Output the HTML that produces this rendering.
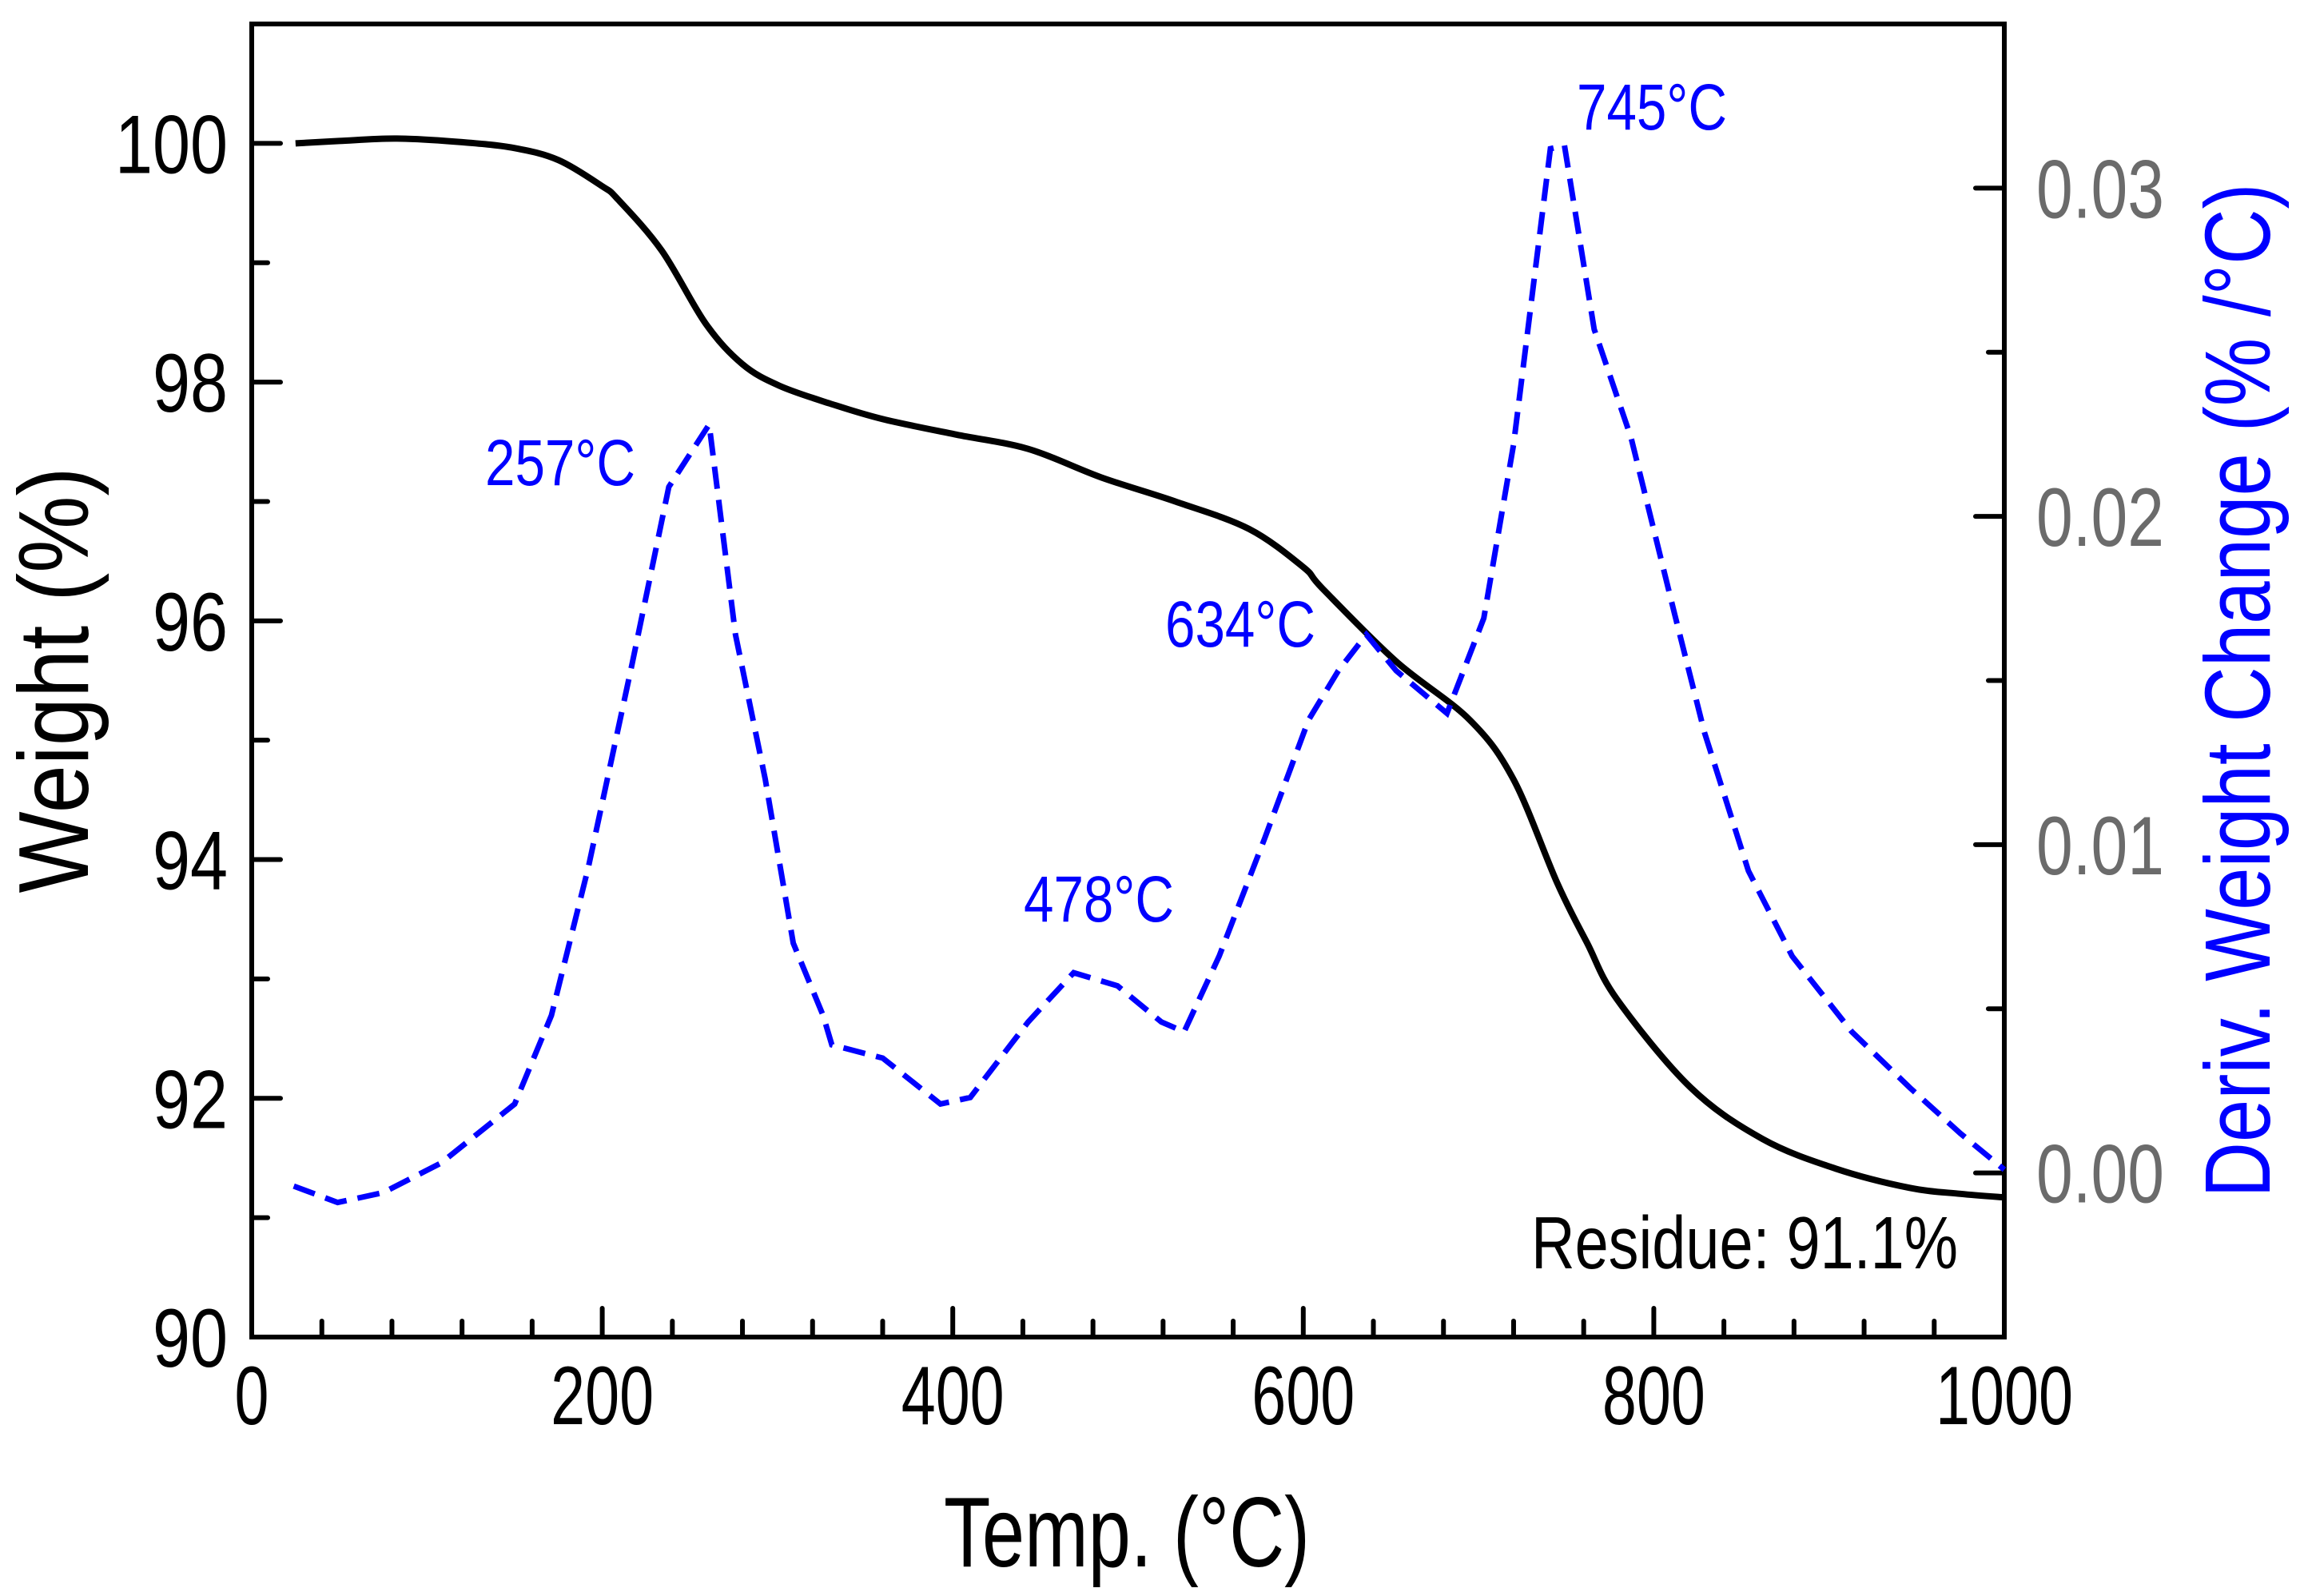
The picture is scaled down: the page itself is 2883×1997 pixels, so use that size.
<!DOCTYPE html>
<html><head><meta charset="utf-8"><style>html,body{margin:0;padding:0;background:#fff}svg{display:block}text{font-family:"Liberation Sans Narrow","Liberation Sans",sans-serif}</style></head>
<body>
<svg id="chart" width="2883" height="1997" viewBox="0 0 2883 1997" xmlns="http://www.w3.org/2000/svg">
<g id="axes"></g>
<g id="series"></g>
<g id="labels"></g>
</svg>
<script>
const tgaTemp = [25,50,83,120,150,175,200,209,234,259,280,301,330,360,402,443,485,527,569,600,611,653,695,720,745,762,779,821,862,904,946,975,1000];
const tgaWeight = [100,100.02,100.04,100.01,99.96,99.86,99.64,99.53,99.1,98.49,98.15,97.97,97.82,97.69,97.56,97.44,97.2,97.0,96.77,96.45,96.27,95.66,95.17,94.67,93.8,93.3,92.83,92.09,91.66,91.41,91.25,91.2,91.17];
const dtgTemp = [24,49,75,108,150,171,192,217,238,261,276,293,309,326,331,360,393,410,443,469,494,519,532,552,578,603,620,636,653,682,703,720,741,749,766,787,812,829,854,879,913,946,975,1000];
const dtgValue = [-0.0004,-0.0009,-0.0006,0.0003,0.0021,0.0048,0.0093,0.0155,0.0209,0.0228,0.0164,0.0120,0.0070,0.0048,0.0039,0.0035,0.0021,0.0023,0.0046,0.0061,0.0057,0.0046,0.0043,0.0066,0.0102,0.0138,0.0153,0.0164,0.0153,0.0140,0.0169,0.0222,0.0312,0.0313,0.0257,0.0224,0.0170,0.0134,0.0092,0.0066,0.0043,0.0026,0.0012,0.0001];
const xTicks = [0,200,400,600,800,1000];
const yTicks = [90,92,94,96,98,100];
const y2Ticks = [0.00,0.01,0.02,0.03];
const y2TickLabels = ["0.00","0.01","0.02","0.03"];
const peakTemps = [257,478,634,745];

const L=315,R=2508,T=30,B=1673;
const X=t=>L+(t-0)/(1000-0)*(R-L);
const Y=w=>B-(w-90)/(101-90)*(B-T);
const Y2=d=>B-(d-(-0.005))/(0.035-(-0.005))*(B-T);
const NS="http://www.w3.org/2000/svg";
function mk(tag,attrs,parent,text){const e=document.createElementNS(NS,tag);for(const k in attrs)e.setAttribute(k,attrs[k]);if(text!==undefined)e.textContent=text;parent.appendChild(e);return e;}
function smooth(pts){let d='M'+pts[0][0].toFixed(1)+','+pts[0][1].toFixed(1);for(let i=0;i<pts.length-1;i++){const p0=pts[Math.max(0,i-1)],p1=pts[i],p2=pts[i+1],p3=pts[Math.min(pts.length-1,i+2)];const c1=[p1[0]+(p2[0]-p0[0])/6,p1[1]+(p2[1]-p0[1])/6],c2=[p2[0]-(p3[0]-p1[0])/6,p2[1]-(p3[1]-p1[1])/6];d+=' C'+c1.map(v=>v.toFixed(1))+' '+c2.map(v=>v.toFixed(1))+' '+p2.map(v=>v.toFixed(1));}return d;}
const axes=document.getElementById('axes'),series=document.getElementById('series'),labels=document.getElementById('labels');

let frame=mk('rect',{x:L,y:T,width:R-L,height:B-T,fill:'none',stroke:'#000','stroke-width':6},axes);



for(let v=0;v<=1000;v+=40){const maj=v%200===0;const t=mk('line',{x1:X(v),x2:X(v),y1:B,y2:B-(maj?36:20),stroke:'#000','stroke-width':6,'stroke-linecap':'round'},axes);

}
xTicks.forEach(v=>{const s=String(v);const t=mk('text',{x:X(v),y:1782,'font-size':104,'text-anchor':'middle',textLength:s.length*43,lengthAdjust:'spacingAndGlyphs'},labels,s);

});
for(let v=90;v<=101;v+=1){const maj=v%2===0;const t=mk('line',{x1:L,x2:L+(maj?36:20),y1:Y(v),y2:Y(v),stroke:'#000','stroke-width':6,'stroke-linecap':'round'},axes);

}
yTicks.forEach(v=>{const s=String(v);const t=mk('text',{x:285,y:Y(v)+37,'font-size':104,'text-anchor':'end',textLength:s.length*47,lengthAdjust:'spacingAndGlyphs'},labels,s);

});
for(let i=-1;i<=7;i++){const v=i*0.005;const maj=i%2===0;const t=mk('line',{x1:R,x2:R-(maj?36:20),y1:Y2(v),y2:Y2(v),stroke:'#000','stroke-width':6,'stroke-linecap':'round'},axes);

}
y2Ticks.forEach((v,i)=>{const t=mk('text',{x:2548,y:Y2(v)+37,'font-size':104,fill:'#6b6b6b',textLength:160,lengthAdjust:'spacingAndGlyphs'},labels,y2TickLabels[i]);

});

let tl=mk('path',{d:smooth(tgaTemp.map((t,i)=>[X(t),Y(tgaWeight[i])])),fill:'none',stroke:'#000','stroke-width':8,'stroke-linejoin':'round'},series);


let p=dtgTemp.map((t,i)=>(i?'L':'M')+X(t).toFixed(1)+','+Y2(dtgValue[i]).toFixed(1)).join(' ');
let dl=mk('path',{d:p,fill:'none',stroke:'#0000ff','stroke-width':7,'stroke-dasharray':'28 14'},series);



const annPos=[[607,607],[1281,1153],[1458,809],[1973,162]];
peakTemps.forEach((v,i)=>{const t=mk('text',{x:annPos[i][0],y:annPos[i][1],'font-size':82,fill:'#0000ff',textLength:188,lengthAdjust:'spacingAndGlyphs'},labels,v+'°C');

});

let r=mk('text',{x:1916,y:1587,'font-size':93,textLength:534,lengthAdjust:'spacingAndGlyphs'},labels,'Residue: 91.1%');


let xt=mk('text',{x:1410,y:1960,'font-size':124,'text-anchor':'middle',textLength:458,lengthAdjust:'spacingAndGlyphs'},labels,'Temp. (°C)');


let yt=mk('text',{x:0,y:0,'font-size':124,'text-anchor':'middle',textLength:533,lengthAdjust:'spacingAndGlyphs',transform:'translate(110,851) rotate(-90)'},labels,'Weight (%)');


let y2t=mk('text',{x:0,y:0,'font-size':116,'text-anchor':'middle',fill:'#0000ff',textLength:1269,lengthAdjust:'spacingAndGlyphs',transform:'translate(2840,864) rotate(-90)'},labels,'Deriv. Weight Change (% /°C)');


</script>
</body></html>
